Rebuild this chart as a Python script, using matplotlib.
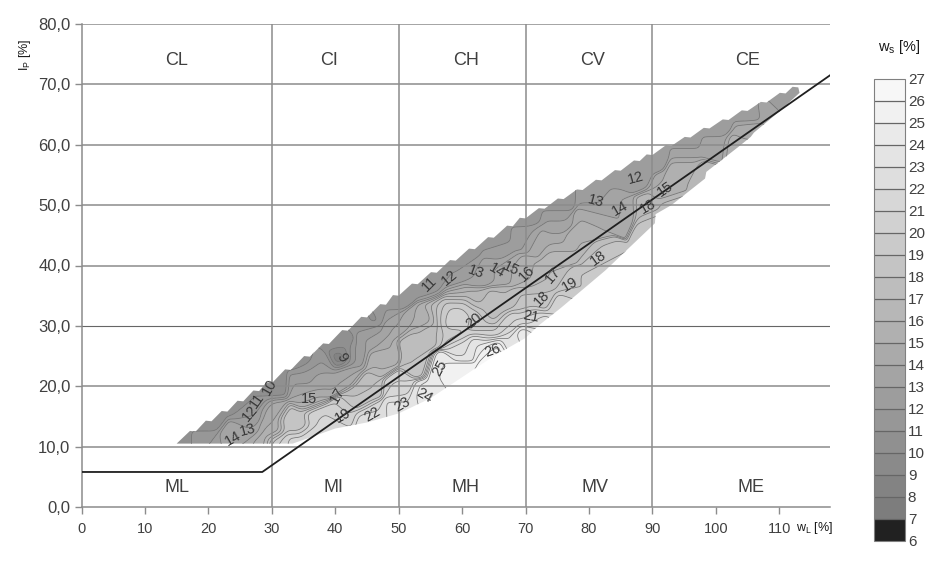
import matplotlib
matplotlib.use("Agg")
import matplotlib.pyplot as plt
from matplotlib.colors import ListedColormap, BoundaryNorm
from matplotlib.patches import PathPatch
from matplotlib.path import Path
from matplotlib.cm import ScalarMappable
import numpy as np

plt.rcParams['font.family'] = ['Liberation Sans', 'DejaVu Sans']
plt.rcParams['mathtext.fontset'] = 'custom'
plt.rcParams['mathtext.rm'] = 'Liberation Sans'

# outline of the measured area
top_wl = [15,18,20.5,23,25.5,28,30,33,36,39,42,45,48,50,53,56,59,62,65,68,70,73,76,79,82,85,88,90,93,96,99,102,105,108,111,113]
top_ip = [10.5,12.5,14.2,15.8,17.5,19.2,20.5,22.7,24.9,27,29.2,31.4,33.5,35,36.9,38.8,40.8,42.7,44.6,46.5,47.8,49.4,51,52.5,54.1,55.7,57.3,58.3,59.8,61.2,62.7,64.1,65.6,67,68.5,69.5]
bot_wl = [113.2,110,106,105.5,103.5,98.5,98.3,93,90.5,90.4,82.6,75.6,72,70,65,60,55,50,45,40,36,33.3,25,15]
bot_ip = [68.6,65.5,62,61.3,59.6,55.5,54.4,50,48.5,47,39.2,33,30,28,25,21.5,18,15.5,14,13,11.5,10.5,10.5,10.5]

# moisture values read along the upper edge
edge_wl = [15,20,25,30,35,40,45,50,55,60,65,70,75,80,85,90,95,100,105,110,113]
edge_ip = [10.5,14.2,17.2,20.5,24,27.7,31.4,35,38.5,42,45,47.8,50.7,53.5,56,58.3,60.7,63.2,65.6,68,69.5]
edge_ws = [10.5,10.5,10.5,10.5,10.5,10.5,10.5,11,11,11,11,11.5,11.5,12,12,12,12,12,12,12,12]
# along the lower edge
low_wl = [20,25,28,31,33.3,36,40,45,50,55,60,65,70,72,75.6,82.6,90.4,93,98.3,103.5,105.5,113]
low_ip = [10.5,10.5,10.5,10.5,10.5,11.5,13,14,15.5,18,21.5,25,28,30,33,39.2,47,50,54.4,59.6,61.3,68.6]
low_ws = [12,14,15.5,20,21.5,21.5,22,22.5,23.5,24.5,26,26.8,25,23,21,20,18.5,17.5,17,16,15.5,13]
# at the contour labels
lab_wl_v = [23.9,26.2,26.5,27.6,29.7,35.8,41.2,45.8,50.5,54,56.5,64.8,
            58,62.2,65.5,67.7,70.2,74.4,72.5,77,81.5,70.8,61.9,87.3,81,84.9,92.1,89.3]
lab_ip_v = [11.4,12.7,15.5,17.7,19.9,17.9,15.2,15.4,16.9,18.5,23,26,
            37.9,38.9,39.2,39.5,38.7,38.4,34.6,36.8,41.2,31.6,30.8,54.5,50.7,49.5,52.6,49.7]
lab_ws_v = [14,13,12,11,10.5,15,20,22,23,24,25,26,
            12,13,14,15,16,17,18,19,18,21,20,12.5,13,14,15,16.5]
# interior readings
in_wl = [59,59,59,55,64,60,63,68,57,61,56,62,64,66,67,70,
         33,37,30,35,38,38,42,45,47,50,53,53,50,46,44,48,55,52,48,44,
         75,72,75,75,70,66,78,80,95,100,105,108,95,43,36,30,34,
         59,61,57,59,59,63,55,65,53]
in_ip = [31.5,33.5,28.5,29,29,26.5,27,27,31.5,31.5,33,34,33,34,30.5,34,
         14,15,16,20,21,23.5,22,20,24,20,24,28,30,28,31,33,36,27,26,18,
         42,44,44,47,45,42,44,47,59,60,62,66,56,25,22,13,14,
         32.8,32.5,32.5,30.3,35,30.5,31.5,32,31]
in_ws = [22,20,19.5,18,20,23,24,23,20,20,17,16,18,17,21,18,
         19,21,14.5,13,14,12,14,18,16,21,18,17,14,13,12,12,11.5,18,15,18,
         16.5,14.5,14.5,13,12.5,12.5,16,15,13.5,13.5,14,13.5,15.5,12.5,12.5,15,18,
         20,20,20,20,15,19,15,17,15]
# low spot
spot_wl = [41,40.5]
spot_ip = [24.8,27.5]
spot_ws = [8,10.5]

levels = list(range(6, 28))
tick_labels = ['6','7','8','9','10','11','12','13','14','15','16','17','18','19','20','21','22','23','24','25','26','27']
greys = [0.13] + list(np.linspace(0.49, 0.97, 20))

# contour labels: text, wL, Ip, rotation
lab_txt = ['14','13','12','11','10','15','17','19','22','23','24','25','26','9','11','12','13','14','15','16','17','18','19','18','21','20','12','13','14','15','18']
lab_wl = [23.9,26.2,26.5,27.6,29.7,35.8,40.3,41.2,45.8,50.5,54,56.5,64.8,41,54.8,58,62.2,65.5,67.7,70.2,74.4,72.5,77,81.5,70.8,61.9,87.3,81,84.9,92.1,89.3]
lab_ip = [11.4,12.7,15.5,17.7,19.9,17.9,18.5,15.2,15.4,16.9,18.5,23,26,24.8,36.9,37.9,38.9,39.2,39.5,38.7,38.4,34.6,36.8,41.2,31.6,30.8,54.5,50.7,49.5,52.6,49.7]
lab_rot = [30,15,50,55,60,0,60,30,30,30,-30,60,20,-60,45,40,-20,-30,-25,45,50,45,30,35,-10,40,15,-15,30,35,30]

zones_upper = ['CL','CI','CH','CV','CE']
zones_lower = ['ML','MI','MH','MV','ME']
zone_wl_u = [15,39,60.7,80.5,105]
zone_wl_l = [15,39.7,60.5,81,105.5]
zone_ip_u = 74
zone_ip_l = 3.3

aline_wl = [0,28.5,118]
aline_ip = [5.8,5.8,71.5]
yticks = [0,10,20,30,40,50,60,70,80]
ytick_labels = ['0,0','10,0','20,0','30,0','40,0','50,0','60,0','70,0','80,0']
xticks = list(range(0,120,10))
zone_bounds = [30,50,70,90]

W, H = 927, 570
fig = plt.figure(figsize=(W/100, H/100), dpi=100)
ax = fig.add_axes([81.5/W, 1-507/H, (830-81.5)/W, (507-24)/H])
ax.set_xlim(0, 118)
ax.set_ylim(0, 80)

cmap = ListedColormap([(g, g, g) for g in greys])
norm = BoundaryNorm(levels, cmap.N)

sx = np.array(edge_wl + low_wl + lab_wl_v + in_wl + spot_wl, dtype=float)
sy = np.array(edge_ip + low_ip + lab_ip_v + in_ip + spot_ip, dtype=float)
sz = np.array(edge_ws + low_ws + lab_ws_v + in_ws + spot_ws, dtype=float)

gx, gy = np.meshgrid(np.arange(14, 115, 0.2), np.arange(9.5, 71, 0.2))
d2 = (gx[..., None]-sx)**2 + (gy[..., None]-sy)**2
w = np.exp(-d2/(2*1.1**2))
gz = (w*sz).sum(-1)/(w.sum(-1)+1e-100)

ox, oy = [], []
for i in range(len(top_wl)-1):
    ox += [top_wl[i], top_wl[i+1]-0.9]
    oy += [top_ip[i], top_ip[i+1]+0.1]
ox += [top_wl[-1]] + bot_wl
oy += [top_ip[-1]] + bot_ip
clip = PathPatch(Path(np.column_stack([ox, oy])), transform=ax.transData, fc='none', ec='none')
ax.add_patch(clip)

cf = ax.contourf(gx, gy, gz, levels=levels, cmap=cmap, norm=norm, extend='both', zorder=1)
cl = ax.contour(gx, gy, gz, levels=levels[1:], colors='0.45', linewidths=0.55, zorder=2)
cf.set_clip_path(clip)
cl.set_clip_path(clip)

ax.hlines([y for y in yticks[1:] if y != 30], 0, 118, colors='0.55', lw=1.1, zorder=3)
ax.hlines(30, 0, 118, colors='0.4', lw=0.8, zorder=3)
ax.vlines(zone_bounds, 0, 80, colors='0.55', lw=1.1, zorder=3)
ax.plot(aline_wl, aline_ip, color='0.12', lw=1.3, zorder=4)

for t, x, y, r in zip(lab_txt, lab_wl, lab_ip, lab_rot):
    ax.text(x, y, t, rotation=r, ha='center', va='center', fontsize=10.5, color='0.22', zorder=5)
for t, x in zip(zones_upper, zone_wl_u):
    ax.text(x, zone_ip_u, t, ha='center', va='center', fontsize=13, color='0.25')
for t, x in zip(zones_lower, zone_wl_l):
    ax.text(x, zone_ip_l, t, ha='center', va='center', fontsize=13, color='0.25')

for s in ['top', 'right']:
    ax.spines[s].set_visible(False)
for s in ['left', 'bottom']:
    ax.spines[s].set_color('0.55')
    ax.spines[s].set_linewidth(1.1)
ax.set_xticks(xticks)
ax.set_yticks(yticks)
ax.set_yticklabels(ytick_labels)
ax.tick_params(axis='both', color='0.55', length=5, width=1, labelcolor='0.25')
ax.tick_params(axis='y', labelsize=12, pad=3)
ax.tick_params(axis='x', labelsize=10.5, pad=6)

fig.text(25/W, 1-55/H, r'I$_{\mathrm{P}}$ [%]', rotation=90, ha='center', va='center', fontsize=9, color='0.1')
fig.text(815/W, 1-528/H, r'w$_{\mathrm{L}}$ [%]', ha='center', va='center', fontsize=9, color='0.1')
fig.text(899/W, 1-47/H, r'w$_{\mathrm{s}}$ [%]', ha='center', va='center', fontsize=10.5, color='0.1')

cax = fig.add_axes([874/W, 1-541/H, 31/W, (541-79)/H])
cb = fig.colorbar(ScalarMappable(norm=norm, cmap=cmap), cax=cax, ticks=levels, drawedges=True, spacing='uniform')
cb.ax.set_yticklabels(tick_labels)
cb.ax.tick_params(length=0, labelsize=11, pad=2, labelcolor='0.25')
cb.outline.set_edgecolor('0.5')
cb.dividers.set_color('0.4')
cb.dividers.set_linewidth(0.9)

fig.savefig('out.png', dpi=100)
